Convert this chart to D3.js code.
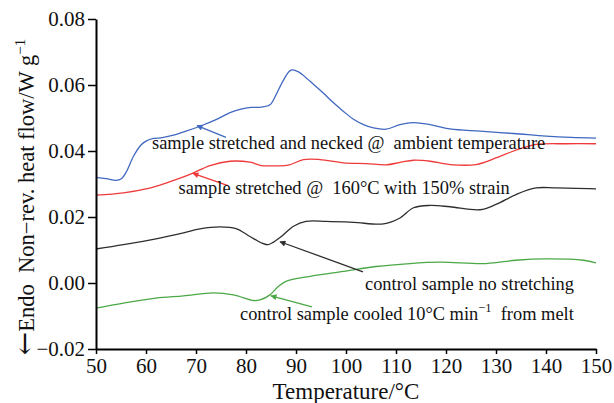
<!DOCTYPE html>
<html>
<head>
<meta charset="utf-8">
<script src="https://cdn.jsdelivr.net/npm/d3@7/dist/d3.min.js"></script>
<style>
    body { margin: 0; background: #fff; }
    svg text { font-family: "Liberation Serif", "Times New Roman", serif; fill: #111; white-space: pre; }
</style>
</head>
<body>
<svg id="chart" width="614" height="403"></svg>
<script>
// tick values
var xTicks = [50, 60, 70, 80, 90, 100, 110, 120, 130, 140, 150];
var yTicks = [-0.02, 0.00, 0.02, 0.04, 0.06, 0.08];

// curves: [temperature, heat flow]
var necked = [[50,0.0320],[52,0.0316],[54,0.0311],[55,0.0315],[56,0.0335],[57.5,0.0384],[59,0.0418],[60,0.0430],[61.5,0.0438],[63,0.0440],[65.5,0.0448],[68,0.0460],[70.8,0.0475],[74,0.0495],[76.8,0.0516],[79,0.0527],[81,0.0532],[83,0.0533],[84.8,0.0540],[86,0.0570],[87.5,0.0615],[89,0.0645],[90.5,0.0640],[92,0.0622],[93.5,0.0602],[95.5,0.0575],[97.5,0.0546],[99.5,0.0520],[101.5,0.0496],[103.5,0.0480],[105.5,0.0470],[108,0.0466],[110.8,0.0480],[113.5,0.0486],[116.8,0.0480],[120.8,0.0467],[126.8,0.0460],[133.5,0.0453],[140,0.0445],[145,0.0441],[150,0.0439]];
var stretched160 = [[50,0.0266],[55.5,0.0273],[60,0.0285],[64,0.0303],[68.8,0.0329],[72.8,0.0356],[76.8,0.0369],[80.8,0.0366],[83,0.0356],[86,0.0355],[88.5,0.0357],[91.5,0.0374],[94.8,0.0374],[99.5,0.0364],[104,0.0362],[108,0.0358],[111,0.0366],[113.5,0.0372],[116.8,0.0369],[120.8,0.0359],[126,0.0359],[130,0.0379],[133,0.0397],[135.5,0.0410],[138,0.0420],[144,0.0422],[150,0.0422]];
var noStretch = [[50,0.0103],[55.5,0.0116],[62,0.0134],[67.5,0.0152],[70.8,0.0164],[74.8,0.0170],[78,0.0165],[80.8,0.0141],[83,0.0122],[84.3,0.0116],[85.5,0.0124],[87,0.0140],[89.5,0.0172],[92,0.0187],[96,0.0187],[101.5,0.0184],[107.5,0.0179],[110.8,0.0197],[113.5,0.0228],[116.8,0.0235],[120.8,0.0231],[126.8,0.0222],[130,0.0238],[134,0.0268],[138,0.0288],[142,0.0288],[150,0.0285]];
var cooled = [[50,-0.0076],[55.5,-0.0061],[62,-0.0046],[67.5,-0.0039],[73.5,-0.0030],[77.5,-0.0036],[81.5,-0.0053],[82.8,-0.0051],[84.8,-0.0036],[86.5,-0.0010],[88,0.0005],[92.8,0.0020],[99.5,0.0035],[106,0.0050],[112.8,0.0059],[118.8,0.0063],[128,0.0059],[134,0.0069],[140,0.0073],[147.5,0.0069],[150,0.0061]];

// annotation texts
var labelNecked = ["sample stretched and necked @  ambient temperature"];
var labelStretched = ["sample stretched @  160°C with 150% strain"];
var labelNoStretch = ["control sample no stretching"];
var labelCooled = ["control sample cooled 10°C min", "\u22121", "  from melt"];

var svg = d3.select("#chart");
var margin = {left: 96, right: 18, top: 19, bottom: 54};
var width = 614 - margin.left - margin.right;
var height = 403 - margin.top - margin.bottom;

var x = d3.scaleLinear().domain([50, 150]).range([margin.left, margin.left + width]);
var y = d3.scaleLinear().domain([-0.02, 0.08]).range([margin.top + height, margin.top]);

var series = [
    {data: necked, color: "#4068c0"},
    {data: stretched160, color: "#ee3a3a"},
    {data: noStretch, color: "#2e2e2e"},
    {data: cooled, color: "#4ca846"}
];

// text anchor, arrow tail, arrow head (data units)
var annotations = [
    {text: labelNecked[0], at: [61.2, 0.0405], tail: [76, 0.0441], head: [70.2, 0.0477], color: "#4068c0"},
    {text: labelStretched[0], at: [66.5, 0.0269], tail: [76.4, 0.0295], head: [69.4, 0.0332], color: "#ee3a3a"},
    {text: labelNoStretch[0], at: [103.8, -0.0021], tail: [103.4, 0.0034], head: [86.8, 0.0125], color: "#2e2e2e"},
    {text: null, at: [78.8, -0.0113], tail: [93.2, -0.0072], head: [85, -0.0039], color: "#4ca846"}
];

var line = d3.line()
    .x(function (d) { return x(d[0]); })
    .y(function (d) { return y(d[1]); })
    .curve(d3.curveCatmullRom.alpha(0.5));

series.forEach(function (s) {
    svg.append("path")
        .attr("d", line(s.data))
        .attr("fill", "none")
        .attr("stroke", s.color)
        .attr("stroke-width", 1.3);
});

// axes
var xAxis = svg.append("g")
    .attr("transform", "translate(0," + (margin.top + height) + ")")
    .call(d3.axisBottom(x).tickValues(xTicks).tickSize(5).tickSizeOuter(0).tickFormat(d3.format("d")));
var yAxis = svg.append("g")
    .attr("transform", "translate(" + margin.left + ",0)")
    .call(d3.axisLeft(y).tickValues(yTicks).tickSize(8).tickSizeOuter(0).tickFormat(function (d) {
        return d3.format(".2f")(d).replace("-", "\u2212");
    }));
[xAxis, yAxis].forEach(function (g) {
    g.select(".domain").attr("stroke", "#000").attr("stroke-width", 2);
    g.selectAll(".tick line").attr("stroke", "#000").attr("stroke-width", 1.5);
    g.selectAll(".tick text")
        .attr("font-size", 21)
        .attr("fill", "#111");
});
xAxis.selectAll(".tick text").attr("y", 7).attr("dy", "0.8em");
yAxis.selectAll(".tick text").attr("x", -11);

svg.append("text")
    .attr("x", x(100))
    .attr("y", 399)
    .attr("text-anchor", "middle")
    .attr("font-size", 23)
    .text("Temperature/°C");

var ylab = svg.append("text")
    .attr("transform", "translate(34," + 197 + ") rotate(-90)")
    .attr("text-anchor", "middle")
    .attr("font-size", 22.5);
ylab.append("tspan").attr("font-size", 28).attr("font-family", "DejaVu Serif, serif").text("\u2190");
ylab.append("tspan").text("Endo  Non\u2212rev. heat flow/W g");
ylab.append("tspan").attr("font-size", 15).attr("dy", -9).text("\u22121");

// arrows
var defs = svg.append("defs");
annotations.forEach(function (a, i) {
    defs.append("marker")
        .attr("id", "arr" + i)
        .attr("viewBox", "0 0 10 10")
        .attr("refX", 9).attr("refY", 5)
        .attr("markerWidth", 9).attr("markerHeight", 6)
        .attr("markerUnits", "userSpaceOnUse")
        .attr("orient", "auto")
        .append("path")
        .attr("d", "M0,0L10,5L0,10Z")
        .attr("fill", a.color);
    svg.append("line")
        .attr("x1", x(a.tail[0])).attr("y1", y(a.tail[1]))
        .attr("x2", x(a.head[0])).attr("y2", y(a.head[1]))
        .attr("stroke", a.color)
        .attr("stroke-width", 1.3)
        .attr("marker-end", "url(#arr" + i + ")");
});

annotations.forEach(function (a) {
    if (a.text) {
        svg.append("text")
            .attr("x", x(a.at[0])).attr("y", y(a.at[1]))
            .attr("font-size", 18.4)
            .text(a.text);
    }
});

// green label with superscript
var g = annotations[3];
var gt = svg.append("text")
    .attr("x", x(g.at[0])).attr("y", y(g.at[1]))
    .attr("font-size", 18.4);
gt.append("tspan").text(labelCooled[0]);
gt.append("tspan").attr("font-size", 12.5).attr("dy", -8).text(labelCooled[1]);
gt.append("tspan").attr("dy", 8).text(labelCooled[2]);
</script>
</body>
</html>
